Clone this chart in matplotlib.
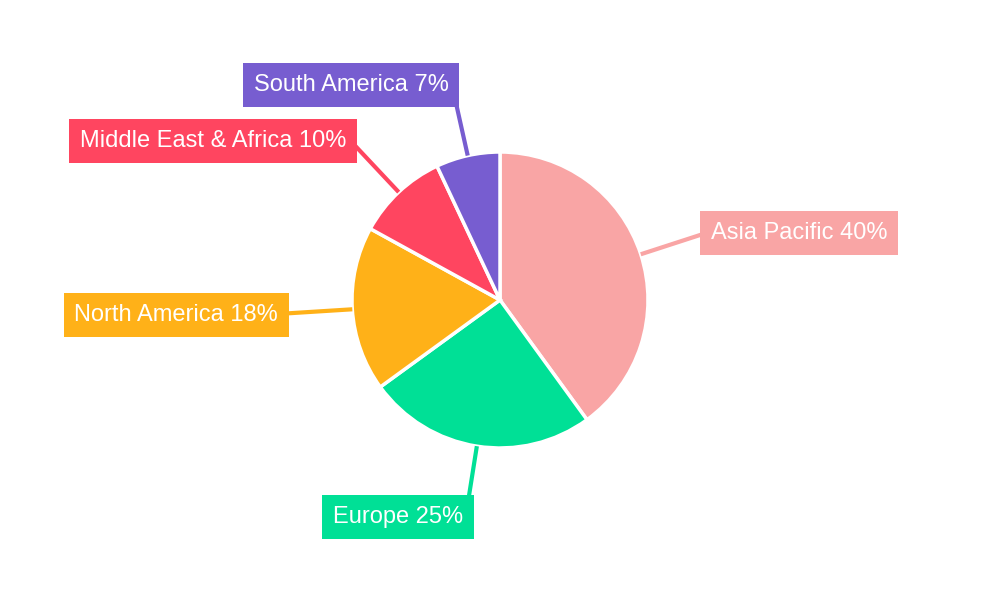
import numpy as np
import matplotlib
matplotlib.use("Agg")
import matplotlib.pyplot as plt

regions = ["Asia Pacific", "Europe", "North America", "Middle East & Africa", "South America"]
shares = [40, 25, 18, 10, 7]
colors = ["#F9A5A5", "#00E096", "#FFB118", "#FF4560", "#775DD0"]
label_pos = [(799, 232), (398, 516), (176, 314), (213, 140), (351, 84)]

plt.rcParams['font.family'] = ['Liberation Sans', 'DejaVu Sans']
fig = plt.figure(figsize=(10, 6), dpi=100)
ax = fig.add_axes([0, 0, 1, 1])

cx, cy, r = 500, 300, 148
wedges, _ = ax.pie(shares, colors=colors, startangle=90, counterclock=False,
                   center=(cx, cy), radius=r, frame=True,
                   wedgeprops=dict(edgecolor='white', linewidth=2.5))
ax.set_xlim(0, 1000); ax.set_ylim(0, 600); ax.set_aspect('equal'); ax.axis('off')

for w, name, v, c, (px, py) in zip(wedges, regions, shares, colors, label_pos):
    ang = np.deg2rad((w.theta1 + w.theta2) / 2)
    r2 = r + 65
    ax.plot([cx + r * np.cos(ang), cx + r2 * np.cos(ang)],
            [cy + r * np.sin(ang), cy + r2 * np.sin(ang)],
            color=c, lw=3, zorder=1, solid_capstyle='butt')
    ax.text(px, 600 - py - 1, f"{name} {v}%", ha='center', va='center', color='white',
            fontsize=17, zorder=5,
            bbox=dict(boxstyle='square,pad=0.45', fc=c, ec='none'))

fig.savefig("out.png", dpi=100)
